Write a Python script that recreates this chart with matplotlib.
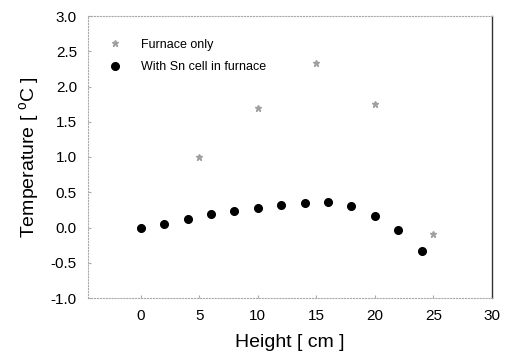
import numpy as np
import matplotlib.pyplot as plt

plt.rcParams['font.family'] = ['Liberation Sans', 'DejaVu Sans']

# Furnace only
h_furnace = [5, 10, 15, 20, 25]
t_furnace = [1.0, 1.7, 2.33, 1.75, -0.09]

# With Sn cell in furnace
h_sn = [0, 2, 4, 6, 8, 10, 12, 14, 16, 18, 20, 22, 24]
t_sn = [0.0, 0.05, 0.12, 0.19, 0.24, 0.28, 0.32, 0.35, 0.36, 0.31, 0.17, -0.03, -0.33]

fig = plt.figure(figsize=(5.1, 3.64), dpi=100)
ax = fig.add_axes([88/510, 66/364, 404/510, 282/364])

ax.plot(h_furnace, t_furnace, ls='none', marker='*', ms=5, color='#a0a0a0',
        label='Furnace only')
ax.plot(h_sn, t_sn, ls='none', marker='o', ms=5.5, color='black',
        label='With Sn cell in furnace')

ax.set_xlim(-4.5, 30)
ax.set_ylim(-1.0, 3.0)
ax.set_xticks([0, 5, 10, 15, 20, 25, 30])
ax.set_yticks(np.arange(-1.0, 3.01, 0.5))
ax.set_yticklabels([f'{v:.1f}' for v in np.arange(-1.0, 3.01, 0.5)])
ax.tick_params(labelsize=11, length=2, color='#aaaaaa', direction='in')
ax.tick_params(axis='y', pad=8)
ax.tick_params(axis='x', pad=8)

for s in ['top', 'left', 'bottom']:
    ax.spines[s].set_color('#aaaaaa')
    ax.spines[s].set_linestyle(':')
    ax.spines[s].set_linewidth(0.8)
ax.spines['right'].set_color('#333333')
ax.spines['right'].set_linewidth(1.0)

ax.set_xlabel('Height [ cm ]', fontsize=14, labelpad=8)
ax.set_ylabel('Temperature [ $^\\mathregular{o}$C ]', fontsize=14, labelpad=6)

ax.legend(loc='upper left', bbox_to_anchor=(0.02, 0.95), frameon=False,
          fontsize=9, handletextpad=1.3, handlelength=1.6, borderaxespad=0.3,
          labelspacing=0.85)

fig.savefig('out.png', dpi=100)
